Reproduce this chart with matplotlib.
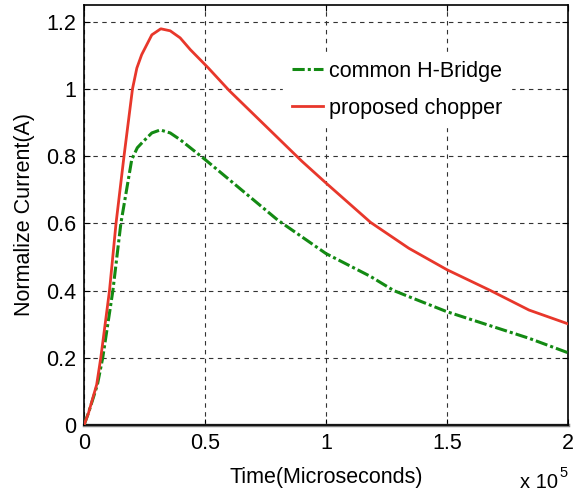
import matplotlib
matplotlib.use("Agg")
import matplotlib.pyplot as plt
from matplotlib.ticker import FixedLocator

# data (time in microseconds)
red_t = [0, 1800, 5200, 6900, 10500, 13200, 16500, 20000, 21800, 23800, 28000,
         31700, 35600, 39700, 43900, 48000, 51400, 60000, 70000, 80000, 90000,
         100000, 118400, 134200, 150000, 168000, 183900, 200000]
red_v = [0, 0.035, 0.12, 0.20, 0.40, 0.60, 0.80, 1.0, 1.062, 1.102, 1.161,
         1.179, 1.173, 1.152, 1.117, 1.087, 1.062, 0.995, 0.925, 0.855, 0.785,
         0.72, 0.603, 0.526, 0.462, 0.40, 0.342, 0.301]

green_t = [0, 2000, 5500, 7700, 11900, 15200, 19700, 22000, 24500, 28000, 31500,
           35600, 39700, 50000, 60000, 70000, 80000, 90000, 100000, 118400,
           128000, 134200, 150000, 183900, 200000]
green_v = [0, 0.04, 0.12, 0.20, 0.40, 0.60, 0.79, 0.825, 0.844, 0.869, 0.878,
           0.869, 0.849, 0.79, 0.73, 0.67, 0.61, 0.56, 0.51, 0.442,
           0.40, 0.382, 0.337, 0.258, 0.215]

xticks = [0, 50000, 100000, 150000, 200000]
xtick_labels = ['0', '0.5', '1', '1.5', '2']
yticks = [0, 0.2, 0.4, 0.6, 0.8, 1.0, 1.2]
ytick_labels = ['0', '0.2', '0.4', '0.6', '0.8', '1', '1.2']

plt.rcParams['font.family'] = ['Liberation Sans', 'DejaVu Sans']
fs = 15.5

fig = plt.figure(figsize=(5.76, 4.93), dpi=100)
ax = fig.add_axes([0.146, 0.138, 0.840, 0.852])

ax.plot(green_t, green_v, color='#138a13', lw=2.2, linestyle=(0, (4, 1, 1, 1)),
        label='common H-Bridge', zorder=3)
ax.plot(red_t, red_v, color='#e8372b', lw=2, label='proposed chopper', zorder=4)
ax.axhline(0, color='#808080', lw=2.5, zorder=2, clip_on=False)

ax.set_xlim(0, 200000)
ax.set_ylim(0, 1.25)
ax.xaxis.set_major_locator(FixedLocator(xticks))
ax.set_xticklabels(xtick_labels)
ax.yaxis.set_major_locator(FixedLocator(yticks))
ax.set_yticklabels(ytick_labels)

ax.grid(True, color='#333333', lw=0.8, linestyle=(0, (4, 4)))
ax.tick_params(direction='in', top=True, right=True, length=4, width=0.8,
               labelsize=fs, pad=6)
for s in ax.spines.values():
    s.set_linewidth(1.2)
    s.set_color('black')

ax.set_xlabel('Time(Microseconds)', fontsize=fs, labelpad=9)
ax.set_ylabel('Normalize Current(A)', fontsize=fs, labelpad=8)

leg = ax.legend(loc='upper left', bbox_to_anchor=(0.411, 0.888), fontsize=fs,
                frameon=True, fancybox=False, framealpha=1, edgecolor='white',
                facecolor='white', handlelength=1.45, handletextpad=0.3,
                labelspacing=0.75, borderpad=0.4, borderaxespad=0)
leg.set_zorder(5)

fig.text(0.903, 0.010, 'x 10', fontsize=fs - 1, ha='left', va='baseline')
fig.text(0.972, 0.032, '5', fontsize=fs - 5, ha='left', va='baseline')

fig.savefig('out.png', dpi=100)
